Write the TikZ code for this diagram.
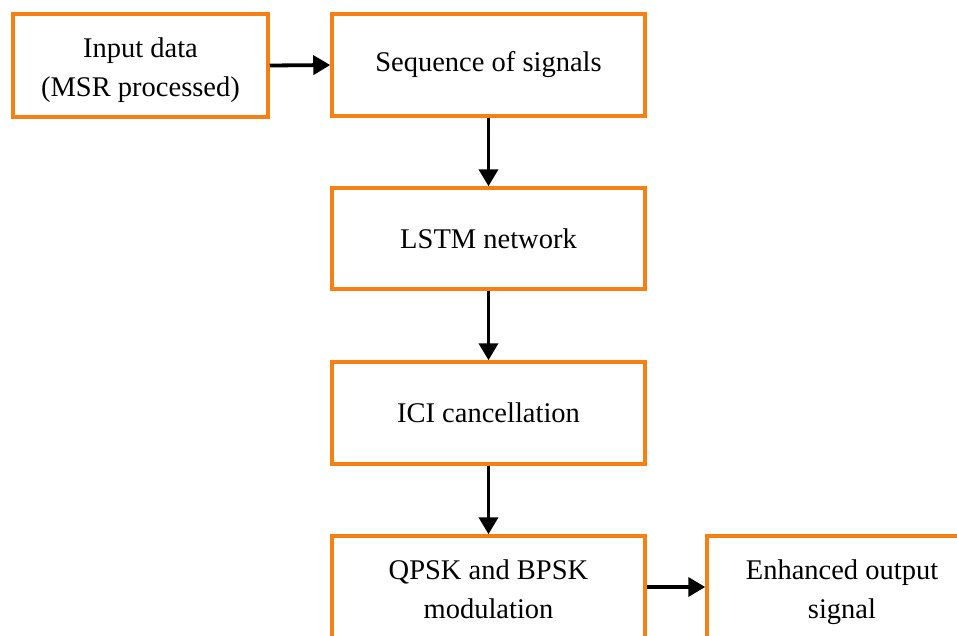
\documentclass[tikz,border=0pt]{standalone}
\usepackage{fontspec}
\setmainfont{Liberation Serif}
\usetikzlibrary{arrows.meta}
\definecolor{boxorange}{RGB}{247,128,20}
\newcommand{\twolines}[2]{\begin{tabular}{@{}c@{}}\rule{0pt}{35pt}#1\\#2\end{tabular}}
\begin{document}
\begin{tikzpicture}[x=1pt,y=-1pt,
  blk/.style={draw=boxorange, line width=3.5pt, fill=white, minimum width=313pt, minimum height=102pt,
    align=center, font=\fontsize{28.5}{39}\selectfont, inner sep=0pt},
  conn/.style={line width=3.8pt, -{Triangle[length=17pt,width=19pt]}}]
\useasboundingbox (0,0) rectangle (957,635);
\fill[white] (0,0) rectangle (957,635);
\node[blk, minimum width=255pt, minimum height=103pt] (in) at (140.5,65.5) {\twolines{Input data}{(MSR processed)}};
\node[blk] (seq) at (488.5,65) {Sequence of signals};
\node[blk, minimum height=101pt] (lstm) at (488.5,238.5) {LSTM network};
\node[blk] (ici) at (488.5,413) {ICI cancellation};
\node[blk] (mod) at (488.5,587) {\twolines{QPSK and BPSK}{modulation}};
\node[blk, minimum width=270pt] (out) at (842,587) {\twolines{Enhanced output}{signal}};
\draw[conn] (in.east) -- (seq.west);
\draw[conn] (seq.south) -- (lstm.north);
\draw[conn] (lstm.south) -- (ici.north);
\draw[conn] (ici.south) -- (mod.north);
\draw[conn] (mod.east) -- (out.west);
\end{tikzpicture}
\end{document}
